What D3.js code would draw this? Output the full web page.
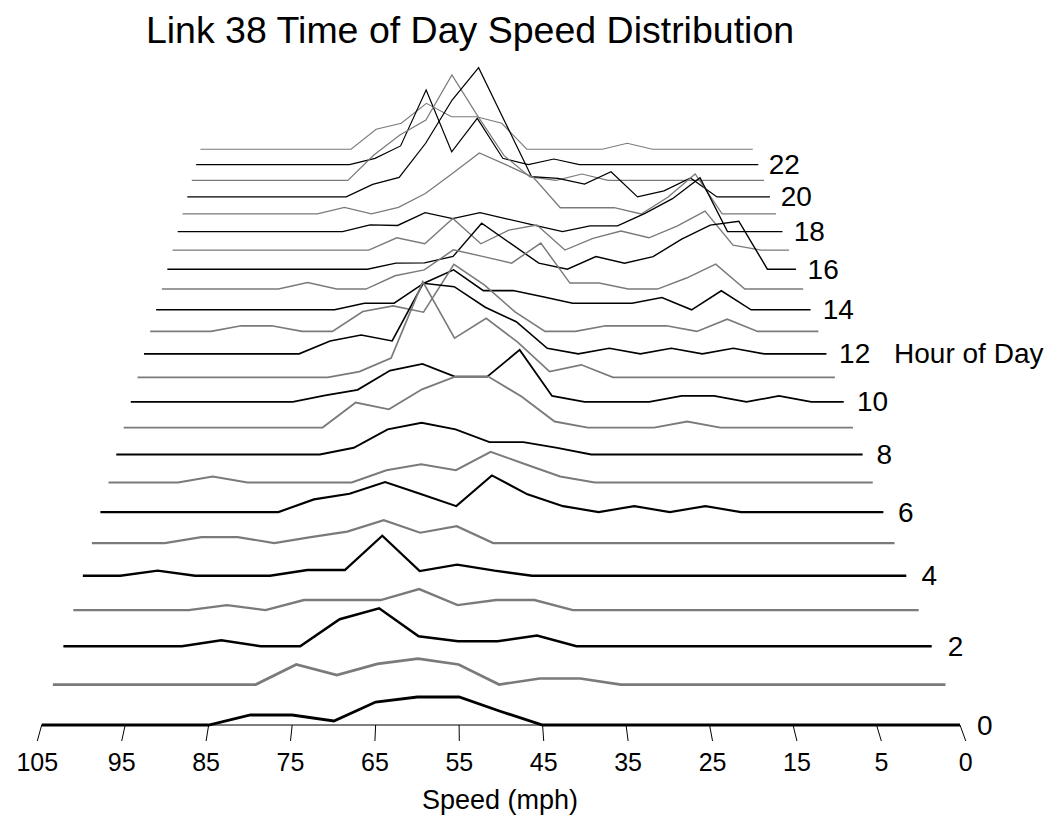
<!DOCTYPE html>
<html>
<head>
<meta charset="utf-8">
<script src="https://cdn.jsdelivr.net/npm/d3@7"></script>
<style>
  html, body { margin: 0; padding: 0; background: #fff; }
  svg { display: block; }
  text { font-family: "Liberation Sans", Arial, Helvetica, sans-serif; fill: #000; }
</style>
</head>
<body>
<svg id="chart" width="1047" height="821"></svg>
<script>
// Speed bins run left to right from 105 mph down to 0 mph (23 bins).
const binCount = 23;
const tickBins = [0, 2, 4, 6, 8, 10, 12, 14, 16, 18, 20, 22];
const tickLabels = ["105", "95", "85", "75", "65", "55", "45", "35", "25", "15", "5", "0"];
const labelledHours = [0, 2, 4, 6, 8, 10, 12, 14, 16, 18, 20, 22];

// Observation density per speed bin, one array per hour of the day.
const hour00 = [0,0,0,0,0,1.0,1.0,0.4,2.3,2.8,2.8,1.35,0,0,0,0,0,0,0,0,0,0,0];
const hour01 = [0,0,0,0,0,0,2.06,0.98,2.13,2.67,2.06,0,0.62,0.62,0,0,0,0,0,0,0,0,0];
const hour02 = [0,0,0,0,0.63,0,0,2.86,4.02,1.06,0.53,0.53,1.13,0,0,0,0,0,0,0,0,0,0];
const hour03 = [0,0,0,0,0.54,0,1.09,1.09,1.09,2.28,0.54,1.09,1.09,0,0,0,0,0,0,0,0,0,0];
const hour04 = [0,0,0.56,0,0,0,0.64,0.64,4.46,0.52,1.23,0.56,0,0,0,0,0,0,0,0,0,0,0];
const hour05 = [0,0,0,0.69,0.69,0,0.69,1.32,2.63,1.19,1.94,0,0,0,0,0,0,0,0,0,0,0,0];
const hour06 = [0,0,0,0,0,0,1.49,2.16,3.52,2.11,0.7,4.3,2.08,0.7,0,0.7,0,0.7,0,0,0,0,0];
const hour07 = [0,0,0,0.72,0,0,0,0,1.48,2.2,1.48,3.7,2.2,0.72,0,0,0,0,0,0,0,0,0];
const hour08 = [0,0,0,0,0,0,0,0.82,3.08,3.9,3.08,1.51,1.51,0.8,0,0,0,0,0,0,0,0,0];
const hour09 = [0,0,0,0,0,0,0,3.15,2.3,4.82,6.42,6.42,3.9,0.76,0,0,0,0.76,0,0,0,0,0];
const hour10 = [0,0,0,0,0,0,0.84,1.55,4.03,4.89,3.25,3.25,6.7,0.77,0,0,0,0.77,0.77,0,0.77,0,0];
const hour11 = [0,0,0,0,0,0,0,0.76,2.53,12.61,5.16,7.79,4.61,0.76,1.65,0,0,0,0,0,0,0,0];
const hour12 = [0,0,0,0,0,0,1.74,2.54,1.74,9.5,9.04,6.27,4.33,0.75,0,0.75,0,0.75,0,0.75,0,0,0];
const hour13 = [0,0,0,0.76,0.76,0,0,2.72,3.5,2.64,9.21,6.39,2.72,0,0,0.76,0.76,0.76,0,1.68,0,0,0];
const hour14 = [0,0,0,0,0,0,0,0.93,0.93,3.73,5.61,2.69,2.69,1.82,0.93,0.93,0.93,1.71,0,2.67,0,0,0];
const hour15 = [0,0,0,0,0,0.93,0,0,1.9,2.75,5.61,4.68,3.72,6.59,0.86,0.86,0,0,1.58,3.58,0,0,0];
const hour16 = [0,0,0,0,0,0,0,0,0.88,0.92,1.87,6.72,3.8,0.88,0,1.84,0.88,1.84,4.38,6.43,7.01,0,0];
const hour17 = [0,0,0,0,0,0,0,0,1.83,0.94,4.72,0.94,2.98,3.72,0,1.74,2.83,1.83,3.58,5.81,0.74,0,0];
const hour18 = [0,0,0,0,0,0,0,1.02,0.94,2.88,1.97,2.88,1.91,0.94,0,0.87,0.87,2.79,5.01,8.2,0,0,0];
const hour19 = [0,0,0,0,0,0,1.02,0,1.02,3.17,6.27,9.44,7.58,5.66,0.96,0.96,0.96,0,2.63,6.19,0,0,0];
const hour20 = [0,0,0,0,0,0,0,1.97,3.06,8.45,15.27,20.36,11.77,3.18,2.93,2.03,3.97,0,0.95,2.99,0,0,0];
const hour21 = [0,0,0,0,0,0,0,4.08,7.29,9.69,16.92,10.27,4.01,0.56,0,1.03,0,0,0,0,0,0,0];
const hour22 = [0,0,0,0,0,0,0,1.01,3.04,12.17,2.09,7.55,1.01,0,0.9,0,0,0,0,0,0,0,0];
const hour23 = [0,0,0,0,0,0,0,3.33,4.31,7.63,5.4,5.4,4.31,0,0,0,0,1.0,0,0,0,0,0];

const series = [hour00, hour01, hour02, hour03, hour04, hour05, hour06, hour07,
                hour08, hour09, hour10, hour11, hour12, hour13, hour14, hour15,
                hour16, hour17, hour18, hour19, hour20, hour21, hour22, hour23];

const svg = d3.select("#chart");

// Front plane: speed bins across, density upward from the front baseline.
const baseY = 725;
const x = d3.scaleLinear().domain([0, binCount - 1]).range([41.7, 960]);
const z = d3.scaleLinear().domain([0, 10]).range([0, 100]);

// Hours recede into depth toward a single vanishing point.
const vanish = { x: 440, y: -720 };
const recede = 0.0288;
const shrink = h => 1 / (1 + recede * h);
function project(px, py, h) {
  const s = shrink(h);
  return [vanish.x + (px - vanish.x) * s, vanish.y + (py - vanish.y) * s];
}

const ink = h => (h % 2 === 0 ? "#000000" : "#7a7a7a");
const weight = h => 2.8 * Math.pow(shrink(h), 1.8);

// Speed axis along the front edge, with ticks running toward the viewer.
const axis = svg.append("g").attr("class", "speed-axis");
const a0 = project(x(0), baseY, 0), a1 = project(x(binCount - 1), baseY, 0);
axis.append("line")
  .attr("x1", a0[0]).attr("y1", a0[1]).attr("x2", a1[0]).attr("y2", a1[1])
  .attr("stroke", "#000").attr("stroke-width", 1);
tickBins.forEach((b, k) => {
  const top = project(x(b), baseY, 0);
  const bot = project(x(b), baseY, -0.38);
  axis.append("line")
    .attr("x1", top[0]).attr("y1", top[1]).attr("x2", bot[0]).attr("y2", bot[1])
    .attr("stroke", "#000").attr("stroke-width", 1);
  axis.append("text")
    .attr("x", bot[0]).attr("y", 771)
    .attr("text-anchor", "middle")
    .attr("font-size", 25)
    .text(tickLabels[k]);
});
svg.append("text")
  .attr("x", 500).attr("y", 809)
  .attr("text-anchor", "middle")
  .attr("font-size", 27)
  .text("Speed (mph)");

// One profile per hour, drawn back to front.
const line = d3.line().x(d => d[0]).y(d => d[1]);
const profiles = svg.append("g").attr("class", "profiles");
for (let h = series.length - 1; h >= 0; h--) {
  const pts = series[h].map((v, i) => project(x(i), baseY - z(v), h));
  profiles.append("path")
    .attr("d", line(pts))
    .attr("fill", "none")
    .attr("stroke", ink(h))
    .attr("stroke-width", weight(h))
    .attr("stroke-linejoin", "miter")
    .attr("stroke-miterlimit", 4);
}

// Hour labels at the right end of every other profile.
const labels = svg.append("g").attr("class", "hour-labels");
labelledHours.forEach(h => {
  const p = project(x(binCount - 1) + 17, baseY, h);
  labels.append("text")
    .attr("x", p[0]).attr("y", p[1])
    .attr("dominant-baseline", "central")
    .attr("font-size", 28)
    .text(h);
  if (h === 12) {
    labels.append("text")
      .attr("x", p[0] + 55).attr("y", p[1])
      .attr("dominant-baseline", "central")
      .attr("font-size", 28)
      .text("Hour of Day");
  }
});

svg.append("text")
  .attr("x", 470).attr("y", 43)
  .attr("text-anchor", "middle")
  .attr("font-size", 37.5)
  .text("Link 38 Time of Day Speed Distribution");
</script>
</body>
</html>
